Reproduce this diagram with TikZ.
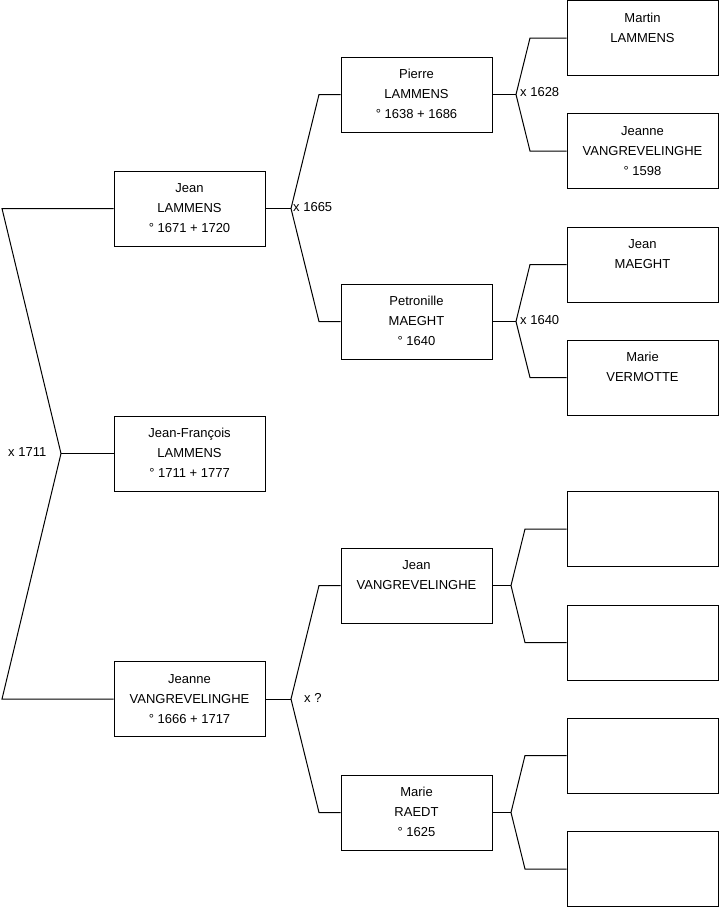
\documentclass[tikz,border=0pt]{standalone}
\usepackage{fontspec}
\setmainfont{Liberation Sans}
\newcommand{\tx}[1]{\raisebox{2pt}{\begin{tabular}{@{}c@{}}#1\end{tabular}}}
\begin{document}
\begin{tikzpicture}[x=1pt,y=-1pt,
  box/.style={draw, line width=1pt, minimum width=151pt, minimum height=75pt, inner sep=0pt, align=center, font=\fontsize{13}{20}\selectfont},
  link/.style={line width=1pt},
  lbl/.style={font=\fontsize{13}{15}\selectfont, inner sep=0pt}]
\useasboundingbox (0,0) rectangle (719,908);
% level 1
\node[box] (jl) at (189.5,208.5) {\tx{Jean\\LAMMENS\\° 1671 + 1720}};
\node[box] (jf) at (189.5,453.5) {\tx{Jean-François\\LAMMENS\\° 1711 + 1777}};
\node[box] (jv) at (189.5,699) {\tx{Jeanne\\VANGREVELINGHE\\° 1666 + 1717}};
% level 2
\node[box] (pl) at (416.5,94.5) {\tx{Pierre\\LAMMENS\\° 1638 + 1686}};
\node[box] (pm) at (416.5,321.5) {\tx{Petronille\\MAEGHT\\° 1640}};
\node[box] (jvg) at (416.5,585.5) {\tx{Jean\\VANGREVELINGHE\\\mbox{}}};
\node[box] (mr) at (416.5,812.5) {\tx{Marie\\RAEDT\\° 1625}};
% level 3
\node[box] (ml) at (642.5,38) {\tx{Martin\\LAMMENS\\\mbox{}}};
\node[box] (jv2) at (642.5,151) {\tx{Jeanne\\VANGREVELINGHE\\° 1598}};
\node[box] (jm) at (642.5,264.5) {\tx{Jean\\MAEGHT\\\mbox{}}};
\node[box] (mv) at (642.5,377.5) {\tx{Marie\\VERMOTTE\\\mbox{}}};
\node[box] (e1) at (642.5,529) {};
\node[box] (e2) at (642.5,642.5) {};
\node[box] (e3) at (642.5,755.5) {};
\node[box] (e4) at (642.5,869) {};
% connector points
\coordinate (a1) at (2,208.5);
\coordinate (f1) at (61,453.5);
\coordinate (a2) at (2,699);
\coordinate (f2) at (291,208.5);
\coordinate (b1) at (319,94.5);
\coordinate (b2) at (319,321.5);
\coordinate (f3) at (291,699);
\coordinate (b3) at (319,585.5);
\coordinate (b4) at (319,812.5);
\coordinate (f4) at (516,94.5);
\coordinate (c1) at (530,38);
\coordinate (c2) at (530,151);
\coordinate (f5) at (516,321.5);
\coordinate (c3) at (530,264.5);
\coordinate (c4) at (530,377.5);
\coordinate (f6) at (511,585.5);
\coordinate (c5) at (525,529);
\coordinate (c6) at (525,642.5);
\coordinate (f7) at (511,812.5);
\coordinate (c7) at (525,755.5);
\coordinate (c8) at (525,869);
% connectors
\draw[link] (jl.west) -- (a1) -- (f1) -- (a2) -- (jv.west);
\draw[link] (f1) -- (jf.west);
\draw[link] (jl.east) -- (f2);
\draw[link] (pl.west) -- (b1) -- (f2) -- (b2) -- (pm.west);
\draw[link] (jv.east) -- (f3);
\draw[link] (jvg.west) -- (b3) -- (f3) -- (b4) -- (mr.west);
\draw[link] (pl.east) -- (f4);
\draw[link] (ml.west) -- (c1) -- (f4) -- (c2) -- (jv2.west);
\draw[link] (pm.east) -- (f5);
\draw[link] (jm.west) -- (c3) -- (f5) -- (c4) -- (mv.west);
\draw[link] (jvg.east) -- (f6);
\draw[link] (e1.west) -- (c5) -- (f6) -- (c6) -- (e2.west);
\draw[link] (mr.east) -- (f7);
\draw[link] (e3.west) -- (c7) -- (f7) -- (c8) -- (e4.west);
% labels
\node[lbl, anchor=west] (l1) at (8,452) {x 1711};
\node[lbl, anchor=west] (l2) at (293,207) {x 1665};
\node[lbl, anchor=west] (l3) at (304,698) {x ?};
\node[lbl, anchor=west] (l4) at (520,92) {x 1628};
\node[lbl, anchor=west] (l5) at (520,320) {x 1640};
\end{tikzpicture}
\end{document}
